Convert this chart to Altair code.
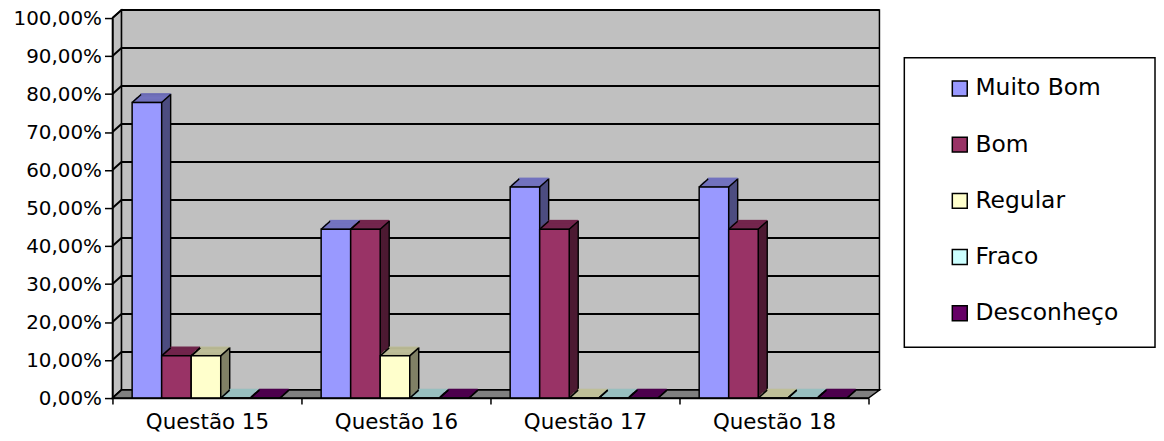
import altair as alt
import pandas as pd

# ---- data ----
questions = ["Questão 15", "Questão 16", "Questão 17", "Questão 18"]
series = ["Muito Bom", "Bom", "Regular", "Fraco", "Desconheço"]
muito_bom = [0.7778, 0.4444, 0.5556, 0.5556]
bom = [0.1111, 0.4444, 0.4444, 0.4444]
regular = [0.1111, 0.1111, 0.0, 0.0]
fraco = [0.0, 0.0, 0.0, 0.0]
desconheco = [0.0, 0.0, 0.0, 0.0]
y_ticks = [0.0, 0.1, 0.2, 0.3, 0.4, 0.5, 0.6, 0.7, 0.8, 0.9, 1.0]

front_colors = ["#9999FF", "#993366", "#FFFFCC", "#CCFFFF", "#660066"]
top_colors = ["#7373BF", "#73264D", "#BFBF99", "#99BFBF", "#4D004D"]
side_colors = ["#4D4D80", "#4D1A33", "#808066", "#668080", "#330033"]

values = [muito_bom, bom, regular, fraco, desconheco]
rows = []
for si, s in enumerate(series):
    for qi, q in enumerate(questions):
        rows.append({"questao": q, "qi": qi, "serie": s, "si": si,
                     "valor": values[si][qi],
                     "top": top_colors[si], "side": side_colors[si]})
df = pd.DataFrame(rows)
ticks_df = pd.DataFrame({"t": y_ticks})
one = pd.DataFrame({"a": [0]})

# ---- geometry ----
NQ = len(questions)
NS = len(series)
W, H = 760, 382
DX, DY = 9, 8
BACK_R = W + DX + 2
PO = 0.70            # outer gap inside each category, in bar widths
SLOTS = NS + 2 * PO
SHIFT = -1
FONT = "DejaVu Sans"

y_axis = alt.Axis(values=y_ticks, title=None, grid=False,
                  labelExpr="replace(format(datum.value, '.2%'), '.', ',')",
                  labelFont=FONT, labelFontSize=20, labelColor="black",
                  labelPadding=3, tickSize=8, tickColor="black", tickWidth=1.5,
                  domainColor="black", domainWidth=1.5, zindex=1)
qlist = "[" + ",".join("'" + q + "'" for q in questions) + "]"
x_vals = [i / 2 for i in range(2 * NQ + 1)]
x_axis = alt.Axis(title=None, grid=False, values=x_vals, labelAngle=0,
                  labelExpr=f"datum.value % 1 == 0.5 ? {qlist}[floor(datum.value)] : ''",
                  tickOpacity={"condition": {"test": "datum.value % 1 == 0.5", "value": 0}, "value": 1},
                  tickSize=6, tickColor="black", tickWidth=1.5,
                  domainColor="black", domainWidth=1.5, labelFont=FONT,
                  labelFontSize=21.5, labelColor="black", labelPadding=8,
                  labelFlush=False, labelOverlap=False, zindex=1)
xscale = alt.Scale(domain=[0, NQ], nice=False, zero=False, padding=0)
yscale = alt.Scale(domain=[0, 1], nice=False, zero=True, padding=0)

X = alt.X("x0:Q", scale=xscale, axis=x_axis)
X2 = alt.X2("x1:Q")
Y = alt.Y("valor:Q", scale=yscale, axis=y_axis)

base = alt.Chart(df).transform_calculate(
    x0=f"datum.qi + ({PO} + datum.si) / {SLOTS}",
    x1=f"datum.qi + ({PO} + datum.si + 1) / {SLOTS}",
    zero="0",
    v2=f"datum.valor + {1.4 / H}",
)
bars = base.encode(x=X, x2=X2, y=Y, y2=alt.Y2("zero:Q"))

layers = []

# back wall
layers.append(alt.Chart(one).mark_rect(fill="#C0C0C0", stroke="black", strokeWidth=1.5).encode(
    x=alt.value(DX), x2=alt.value(BACK_R), y=alt.value(-DY), y2=alt.value(H - DY)))
# grid on back wall
layers.append(alt.Chart(ticks_df).mark_rule(color="black", strokeWidth=2, yOffset=-DY).encode(
    y=alt.Y("t:Q", scale=yscale, axis=y_axis), x=alt.value(DX), x2=alt.value(BACK_R)))
# left wall
layers.append(alt.Chart(one).mark_point(
    shape=f"M0,0L{DX},{-DY}L{DX},{H - DY}L0,{H}Z", size=4, filled=True,
    fill="#C0C0C0", stroke="black", strokeWidth=1.5, opacity=1).encode(
    x=alt.value(0), y=alt.value(0)))
# grid on left wall
layers.append(alt.Chart(ticks_df).mark_point(
    shape=f"M0,0L{DX},{-DY}", size=4, filled=False, stroke="black",
    strokeWidth=2, opacity=1).encode(
    x=alt.value(0), y=alt.Y("t:Q", scale=yscale, axis=y_axis)))
# floor
layers.append(alt.Chart(one).mark_point(
    shape=f"M0,0L{DX},{-DY}L{BACK_R},{-DY}L{W},0Z", size=4, filled=True,
    fill="#808080", stroke="black", strokeWidth=1.5, opacity=1).encode(
    x=alt.value(0), y=alt.value(H)))

# bar side extrusions
for k in range(DX, 0, -1):
    dyk = round(k * DY / DX)
    kw = dict(xOffset=SHIFT + k, x2Offset=SHIFT + k, yOffset=-dyk, y2Offset=-dyk)
    if k == DX:
        kw.update(stroke="black", strokeWidth=1.5)
    else:
        kw.update(strokeWidth=0)
    layers.append(bars.mark_bar(**kw).encode(fill=alt.Fill("side:N", scale=None)))

# bottom-right diagonal
layers.append(base.mark_point(
    shape=f"M0,0L{DX},{-DY}", size=4, filled=False, stroke="black",
    strokeWidth=1.5, opacity=1, xOffset=SHIFT).encode(
    x=alt.X("x1:Q", scale=xscale, axis=x_axis),
    y=alt.Y("zero:Q", scale=yscale, axis=y_axis)))

# top faces
for k in range(DX, 0, -1):
    dyk = round(k * DY / DX)
    layers.append(bars.mark_bar(
        xOffset=SHIFT + k, x2Offset=SHIFT + k, yOffset=-dyk, y2Offset=-dyk,
        strokeWidth=0).encode(y2=alt.Y2("v2:Q"), fill=alt.Fill("top:N", scale=None)))

# top diagonals (left and right front corners)
for fld in ("x0", "x1"):
    layers.append(base.mark_point(
        shape=f"M0,0L{DX},{-DY}", size=4, filled=False, stroke="black",
        strokeWidth=1.5, opacity=1, xOffset=SHIFT).encode(
        x=alt.X(f"{fld}:Q", scale=xscale, axis=x_axis), y=Y))

# front faces
layers.append(bars.mark_bar(xOffset=SHIFT, x2Offset=SHIFT, stroke="black", strokeWidth=1.5).encode(
    color=alt.Color("serie:N", sort=series,
                    scale=alt.Scale(domain=series, range=front_colors),
                    legend=alt.Legend(title=None, orient="none", legendX=840, legendY=59,
                                      symbolType="square", symbolSize=225,
                                      symbolStrokeColor="black", symbolStrokeWidth=1.5,
                                      symbolOpacity=1, labelFont=FONT,
                                      labelFontSize=23.5, labelColor="black",
                                      labelOffset=4, rowPadding=31.5, padding=0,
                                      labelLimit=400))))

# legend frame
layers.append(alt.Chart(one).mark_rect(fill=None, stroke="black", strokeWidth=1.5).encode(
    x=alt.value(796), x2=alt.value(1048), y=alt.value(40), y2=alt.value(331)))

chart = alt.layer(*layers).properties(
    width=W, height=H,
    autosize=alt.AutoSizeParams(type="none"),
    padding={"left": 105, "top": 9, "right": 289, "bottom": 34},
    background="white",
).configure_view(stroke=None)

chart.save("out.html", embed_options={"renderer": "svg", "actions": False})
